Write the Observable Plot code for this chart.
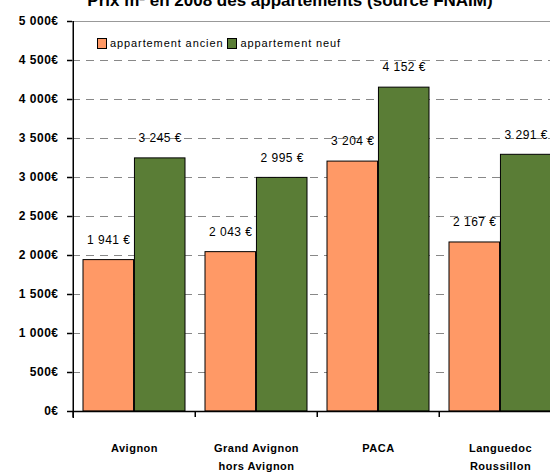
<!DOCTYPE html>
<html>
<head>
<meta charset="utf-8">
<script src="https://cdn.jsdelivr.net/npm/d3@7"></script>
<script src="https://cdn.jsdelivr.net/npm/@observablehq/plot@0.6"></script>
<style>
  html, body { margin: 0; padding: 0; background: #fff; overflow: hidden; width: 550px; height: 472px; }
  #wrap { position: relative; width: 550px; height: 472px; overflow: hidden; }
  #title { position: absolute; top: -8px; left: 290px; transform: translateX(-50%); white-space: nowrap;
           font: bold 17px "Liberation Sans", Arial, sans-serif; color: #000; line-height: 17px; }
  #legend { position: absolute; left: 97px; top: 37px; font: 11px "Liberation Sans", Arial, sans-serif; color: #000;
            letter-spacing: 0.9px; display: flex; align-items: center; white-space: nowrap; }
  #legend .sw { display: inline-block; width: 8px; height: 9px; border: 1px solid #000; margin-right: 3px; }
  #legend .item { display: flex; align-items: center; margin-right: 4px; }
  #chart { position: absolute; left: 0; top: 0; width: 575px; }
  #chart svg { max-width: none !important; width: 575px; height: 472px; }
  #chart svg text { letter-spacing: 0.5px; }
</style>
</head>
<body>
<div id="wrap">
  <div id="chart"></div>
  <div id="title">Prix m² en 2008 des appartements (source FNAIM)</div>
  <div id="legend"></div>
</div>
<script>
// ---- data ----
const cities = ["Avignon", "Grand Avignon\nhors Avignon", "PACA", "Languedoc\nRoussillon"];
const ancien = [1941, 2043, 3204, 2167];
const neuf = [3245, 2995, 4152, 3291];
const seriesNames = ["appartement ancien", "appartement neuf"];
const seriesColors = ["#FF9966", "#5A7D36"];
const yTicks = [0, 500, 1000, 1500, 2000, 2500, 3000, 3500, 4000, 4500, 5000];

// ---- table ----
const rows = cities.map((c, i) => ({city: c, ancien: ancien[i], neuf: neuf[i]}));

// ---- layout ----
const width = 575, height = 472;
const mL = 72, mR = 13, mT = 21, mB = 61;
const pInner = 0.16, pOuter = 0.08;
const step = (width - mL - mR) / (cities.length - pInner + 2 * pOuter);
const bw = step * (1 - pInner);
const half = bw / 2;

const fr = d3.formatLocale({decimal: ",", thousands: " ", grouping: [3], currency: ["", "€"]});
const tickFmt = v => fr.format(",")(v) + "€";
const valFmt = v => fr.format(",")(v) + " €";

const font = "'Liberation Sans', Arial, sans-serif";

const chart = Plot.plot({
  width, height,
  marginLeft: mL, marginRight: mR, marginTop: mT, marginBottom: mB,
  style: {fontFamily: font, fontSize: "11px", color: "#000", background: "transparent", overflow: "visible", maxWidth: "none"},
  x: {domain: cities, paddingInner: pInner, paddingOuter: pOuter, axis: null},
  y: {domain: [0, 5000], axis: null},
  marks: [
    Plot.gridY(yTicks.filter(t => t > 0 && t < 5000), {stroke: "#888", strokeOpacity: 1, strokeDasharray: "8,6"}),
    Plot.ruleY([5000], {stroke: "#999"}),
    Plot.barY(rows, {x: "city", y: "ancien", fill: seriesColors[0], stroke: "#000", strokeWidth: 1, insetRight: half}),
    Plot.barY(rows, {x: "city", y: "neuf", fill: seriesColors[1], stroke: "#000", strokeWidth: 1, insetLeft: half}),
    Plot.text(rows, {x: "city", y: "ancien", text: d => valFmt(d.ancien), dx: -half / 2, dy: -20, fontSize: 12}),
    Plot.text(rows, {x: "city", y: "neuf", text: d => valFmt(d.neuf), dx: half / 2, dy: -20, fontSize: 12}),
    Plot.ruleY([0], {stroke: "#000", strokeWidth: 1.5}),
    Plot.ruleX(cities, {x: d => d, y1: 0, y2: 0, insetBottom: -6, dx: -step / 2, stroke: "#000", strokeWidth: 1.5}),
    Plot.ruleX([cities[0]], {x: d => d, dx: -step / 2, insetBottom: -7, stroke: "#000", strokeWidth: 1.5}),
    Plot.axisY({ticks: yTicks, tickFormat: tickFmt, tickSize: 5, tickPadding: 9, fontSize: 12, fontWeight: "bold", strokeWidth: 1.5, label: null}),
    Plot.axisX({tickSize: 0, tickPadding: 27, lineHeight: 1.7, fontSize: 11, fontWeight: "bold", label: null})
  ]
});
document.getElementById("chart").appendChild(chart);

// legend
const lg = document.getElementById("legend");
seriesNames.forEach((n, i) => {
  const it = document.createElement("span");
  it.className = "item";
  const sw = document.createElement("span");
  sw.className = "sw";
  sw.style.background = seriesColors[i];
  const tx = document.createElement("span");
  tx.textContent = n;
  it.appendChild(sw); it.appendChild(tx);
  lg.appendChild(it);
});
</script>
</body>
</html>
